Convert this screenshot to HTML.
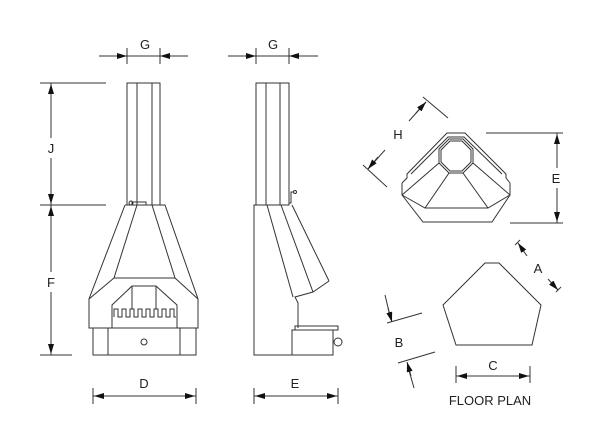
<!DOCTYPE html>
<html><head><meta charset="utf-8"><style>
html,body{margin:0;padding:0;background:#fff}
svg{display:block}
text{font-family:"Liberation Sans",sans-serif;font-size:13px;fill:#222}
</style></head><body>
<svg width="600" height="440" viewBox="0 0 600 440" xmlns="http://www.w3.org/2000/svg">
<defs>
<marker id="ar" viewBox="0 0 10 6" refX="10" refY="3" markerWidth="10" markerHeight="6" markerUnits="userSpaceOnUse" orient="auto"><path d="M0,0L10,3L0,6z" fill="#111"/></marker>
</defs>
<g fill="none" stroke="#333" stroke-width="1">
<line x1="99" y1="56" x2="188" y2="56"/>
<line x1="113" y1="56" x2="127" y2="56" marker-end="url(#ar)"/>
<line x1="174" y1="56" x2="160" y2="56" marker-end="url(#ar)"/>
<line x1="127" y1="48" x2="127" y2="64"/><line x1="160" y1="48" x2="160" y2="64"/>
<rect x="127" y="83" width="33" height="122"/>
<line x1="137" y1="83" x2="137" y2="205"/><line x1="152" y1="83" x2="152" y2="205"/>
<line x1="40" y1="83" x2="106" y2="83"/><line x1="40" y1="205" x2="106" y2="205"/><line x1="40" y1="355" x2="72" y2="355"/>
<line x1="51" y1="83" x2="51" y2="138"/><line x1="51" y1="158" x2="51" y2="205"/>
<line x1="51" y1="98" x2="51" y2="84" marker-end="url(#ar)"/>
<line x1="51" y1="190" x2="51" y2="204" marker-end="url(#ar)"/>
<line x1="51" y1="205" x2="51" y2="272"/><line x1="51" y1="292" x2="51" y2="355"/>
<line x1="51" y1="220" x2="51" y2="206" marker-end="url(#ar)"/>
<line x1="51" y1="340" x2="51" y2="354" marker-end="url(#ar)"/>
<polyline points="125,205 89,299 89,328 198,328 198,299 165,205 125,205"/>
<polyline points="137,205 114,278 175,278 152,205"/>
<line x1="114" y1="278" x2="89" y2="299"/><line x1="175" y1="278" x2="198" y2="299"/>
<polyline points="112,328 112,305 132,286 156,286 177,305 177,328"/>
<line x1="132" y1="286" x2="132" y2="309"/><line x1="156" y1="286" x2="156" y2="309"/>
<polyline points="114,317 114,309 118,309 118,317 122,317 122,309 126,309 126,317 130,317 130,309 134,309 134,317 138,317 138,309 142,309 142,317 146,317 146,309 150,309 150,317 154,317 154,309 158,309 158,317 162,317 162,309 166,309 166,317 170,317 170,309 174,309 174,317 176,317"/>
<rect x="93" y="328" width="103" height="27"/>
<line x1="108" y1="328" x2="108" y2="355"/><line x1="180" y1="328" x2="180" y2="355"/>
<circle cx="144" cy="342" r="3"/>
<circle cx="131" cy="203" r="2"/><rect x="132" y="202" width="14" height="3"/>
<line x1="93" y1="388" x2="93" y2="404"/><line x1="196" y1="388" x2="196" y2="404"/>
<line x1="93" y1="396" x2="196" y2="396"/>
<line x1="108" y1="396" x2="94" y2="396" marker-end="url(#ar)"/>
<line x1="181" y1="396" x2="195" y2="396" marker-end="url(#ar)"/>
<line x1="228" y1="56" x2="318" y2="56"/>
<line x1="242" y1="56" x2="256" y2="56" marker-end="url(#ar)"/>
<line x1="303" y1="56" x2="289" y2="56" marker-end="url(#ar)"/>
<line x1="256" y1="48" x2="256" y2="64"/><line x1="289" y1="48" x2="289" y2="64"/>
<rect x="256" y="83" width="33" height="122"/>
<line x1="266" y1="83" x2="266" y2="205"/><line x1="280" y1="83" x2="280" y2="205"/>
<polyline points="289,205 254,205 254,355 333,355"/>
<line x1="267" y1="205" x2="293" y2="297"/><line x1="281" y1="205" x2="313" y2="292"/>
<line x1="292" y1="205" x2="329" y2="281"/>
<polyline points="329,281 313,292 295,297 298,303 298,328"/>
<rect x="292" y="330" width="41" height="25"/>
<rect x="295" y="326" width="43" height="4"/>
<circle cx="338" cy="342" r="4"/>
<polyline points="289,203 291,203 291,192 293,192"/><circle cx="295" cy="192" r="1.5"/>
<line x1="254" y1="388" x2="254" y2="404"/><line x1="338" y1="388" x2="338" y2="404"/>
<line x1="254" y1="396" x2="338" y2="396"/>
<line x1="269" y1="396" x2="255" y2="396" marker-end="url(#ar)"/>
<line x1="323" y1="396" x2="337" y2="396" marker-end="url(#ar)"/>
<polyline points="402,183 402,195 423,222 492,222 510,195 510,183"/>
<polyline points="402,183 407,178 407,174 447,133 465,133 506,174 506,178 510,183"/>
<polyline points="411,174 448,137 464,137 502,174"/>
<polygon points="449,139 463,139 473,149 473,163 463,173 449,173 439,163 439,149"/>
<polygon points="450,141 462,141 471,150 471,162 462,171 450,171 441,162 441,150"/>
<polyline points="402,195 425,208 488,208 510,195"/>
<line x1="449" y1="173" x2="425" y2="208"/><line x1="463" y1="173" x2="488" y2="208"/>
<line x1="439" y1="163" x2="402" y2="195"/><line x1="473" y1="163" x2="510" y2="195"/>
<line x1="363" y1="165" x2="387" y2="187"/><line x1="423" y1="97" x2="448" y2="118"/>
<line x1="368" y1="169" x2="385" y2="150"/><line x1="409" y1="121" x2="426" y2="102"/>
<line x1="378" y1="157" x2="368" y2="169" marker-end="url(#ar)"/>
<line x1="416" y1="113" x2="426" y2="102" marker-end="url(#ar)"/>
<line x1="486" y1="133" x2="563" y2="133"/><line x1="510" y1="223" x2="563" y2="223"/>
<line x1="557" y1="133" x2="557" y2="168"/><line x1="557" y1="188" x2="557" y2="223"/>
<line x1="557" y1="148" x2="557" y2="134" marker-end="url(#ar)"/>
<line x1="557" y1="208" x2="557" y2="222" marker-end="url(#ar)"/>
<polygon points="485,263 499,263 541,305 532,345 456,345 443,305"/>
<line x1="515" y1="245" x2="520" y2="240"/><line x1="556" y1="292" x2="561" y2="287"/>
<line x1="527" y1="256" x2="518" y2="243" marker-end="url(#ar)"/>
<line x1="548" y1="279" x2="558" y2="290" marker-end="url(#ar)"/>
<line x1="387" y1="323" x2="422" y2="313"/><line x1="398" y1="363" x2="435" y2="352"/>
<line x1="385" y1="295" x2="391" y2="320"/><line x1="408" y1="367" x2="414" y2="388"/>
<line x1="388" y1="308" x2="392" y2="322" marker-end="url(#ar)"/>
<line x1="411" y1="376" x2="407" y2="362" marker-end="url(#ar)"/>
<line x1="456" y1="366" x2="456" y2="383"/><line x1="530" y1="366" x2="530" y2="383"/>
<line x1="456" y1="376" x2="530" y2="376"/>
<line x1="470" y1="376" x2="457" y2="376" marker-end="url(#ar)"/>
<line x1="516" y1="376" x2="529" y2="376" marker-end="url(#ar)"/>
</g>
<text x="145" y="49" text-anchor="middle">G</text>
<text x="273" y="49" text-anchor="middle">G</text>
<text x="51" y="153" text-anchor="middle">J</text>
<text x="51" y="287" text-anchor="middle">F</text>
<text x="144" y="388" text-anchor="middle">D</text>
<text x="295" y="388" text-anchor="middle">E</text>
<text x="398" y="139" text-anchor="middle">H</text>
<text x="556" y="183" text-anchor="middle">E</text>
<text x="538" y="273" text-anchor="middle">A</text>
<text x="399" y="347" text-anchor="middle">B</text>
<text x="493" y="370" text-anchor="middle">C</text>
<text x="490" y="405" text-anchor="middle">FLOOR PLAN</text>
</svg>
</body></html>
